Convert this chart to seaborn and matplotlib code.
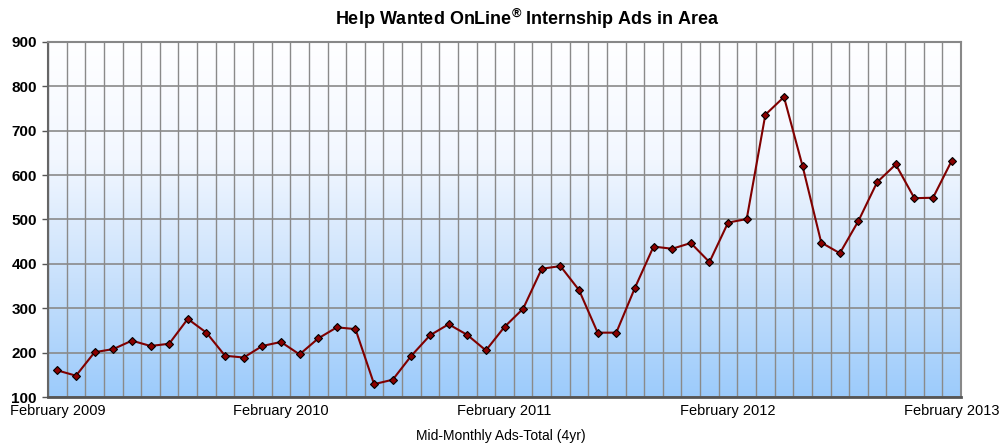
import numpy as np
import pandas as pd
import matplotlib
matplotlib.use("Agg")
import matplotlib.pyplot as plt
import seaborn as sns
from matplotlib.colors import LinearSegmentedColormap

months = pd.date_range("2009-02-01", "2013-02-01", freq="MS")
ads = [160, 148, 201, 208, 227, 215, 220, 276, 245, 193, 189, 215, 224, 196, 232, 257,
       253, 129, 139, 193, 239, 264, 240, 205, 258, 299, 389, 395, 341, 245, 245, 346,
       439, 434, 447, 404, 493, 501, 736, 776, 620, 448, 424, 497, 584, 624, 548, 549, 632]
tick_labels = ["February 2009", "February 2010", "February 2011", "February 2012", "February 2013"]
y_ticks = [100, 200, 300, 400, 500, 600, 700, 800, 900]

df = pd.DataFrame({"idx": np.arange(len(ads)), "ads": ads})

sns.set_theme(style="white")
plt.rcParams["font.family"] = ["Liberation Sans", "DejaVu Sans"]
plt.rcParams["mathtext.fontset"] = "custom"
plt.rcParams["mathtext.rm"] = "Liberation Sans"
plt.rcParams["mathtext.bf"] = "Liberation Sans:bold"
plt.rcParams["text.color"] = "black"
plt.rcParams["axes.labelcolor"] = "black"
plt.rcParams["xtick.color"] = "black"
plt.rcParams["ytick.color"] = "black"

fig = plt.figure(figsize=(10.01, 4.43), dpi=100)
ax = fig.add_axes([0.048, 0.1038, 0.912, 0.8015])

# gradient background
cmap = LinearSegmentedColormap.from_list("bg", ["#ffffff", "#f2f7ff", "#c9e1fc", "#9ccbfb"])
grad = np.linspace(0, 1, 256).reshape(-1, 1)
ax.imshow(grad, aspect="auto", cmap=cmap, extent=[0, 1, 0, 1], transform=ax.transAxes,
          zorder=0, origin="upper")

sns.lineplot(data=df, x="idx", y="ads", ax=ax, color="#800000", linewidth=1.5,
             marker="D", markersize=4.2, markerfacecolor="#8B0000", markeredgecolor="black",
             markeredgewidth=0.8, zorder=3)

n = len(ads)
ax.set_xlim(-0.5, n - 0.5)
ax.set_ylim(100, 900)
ax.set_yticks(y_ticks)
ax.set_yticklabels([str(v) for v in y_ticks], fontweight="bold", fontsize=11)
ax.set_xticks([0, 12, 24, 36, 48])
ax.set_xticklabels(tick_labels, fontsize=10.5)

ax.grid(False)
for x in np.arange(-0.5, n, 1.0):
    ax.axvline(x, color="#8a8a8a", linewidth=1.0, zorder=1)
for y in y_ticks:
    ax.axhline(y, color="#8a8a8a", linewidth=1.2, zorder=1)

ax.tick_params(axis="y", which="major", left=True, length=4, width=1, color="#555555", pad=4)
ax.tick_params(axis="x", which="both", bottom=False, length=0, pad=5)

for side in ["top", "right"]:
    ax.spines[side].set_color("#888888")
    ax.spines[side].set_linewidth(1.5)
ax.spines["left"].set_color("#666666")
ax.spines["left"].set_linewidth(1.5)
ax.spines["bottom"].set_color("#555555")
ax.spines["bottom"].set_linewidth(2.0)

ax.set_xlabel("")
ax.set_ylabel("")
fig.text(0.5, 0.016, "Mid-Monthly Ads-Total (4yr)", ha="center", va="center", fontsize=10)
fig.text(0.527, 0.957, "Help Wanted OnLine$^{\\mathregular{\u00ae}}$ Internship Ads in Area",
         ha="center", va="center", fontsize=13, fontweight="bold")

fig.savefig("out.png", dpi=100)
